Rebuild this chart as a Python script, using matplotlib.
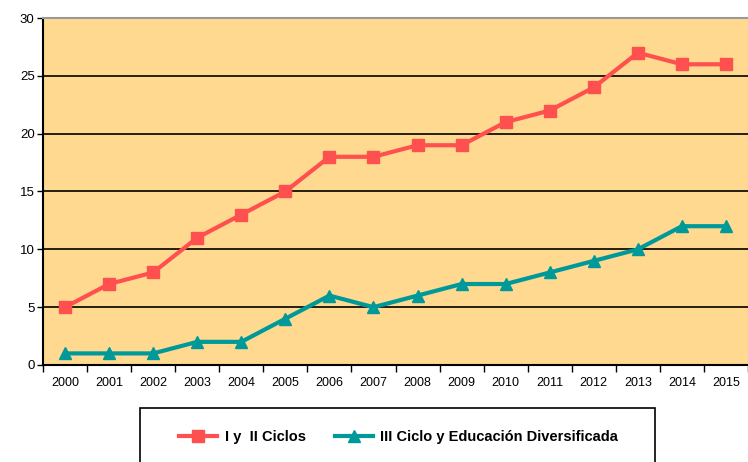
import numpy as np
import matplotlib
matplotlib.use("Agg")
import matplotlib.pyplot as plt
from matplotlib.patches import Rectangle

years = ["2000", "2001", "2002", "2003", "2004", "2005", "2006", "2007",
         "2008", "2009", "2010", "2011", "2012", "2013", "2014", "2015"]
ciclos_1_2 = [5, 7, 8, 11, 13, 15, 18, 18, 19, 19, 21, 22, 24, 27, 26, 26]
ciclo_3_div = [1, 1, 1, 2, 2, 4, 6, 5, 6, 7, 7, 8, 9, 10, 12, 12]

red = "#FF5050"
teal = "#009999"
bg = "#FFD98F"

plt.rcParams["font.family"] = ["Liberation Sans", "DejaVu Sans"]

fig = plt.figure(figsize=(7.48, 4.62), dpi=100)
ax = fig.add_axes([0.0575, 0.21, 0.9425, 0.751])
ax.set_facecolor(bg)

x = np.arange(len(years))
ax.plot(x, ciclos_1_2, color=red, lw=3, marker="s", ms=8, label="I y  II Ciclos", zorder=3)
ax.plot(x, ciclo_3_div, color=teal, lw=3, marker="^", ms=8, label="III Ciclo y Educación Diversificada", zorder=3)

ax.set_xlim(-0.5, len(years) - 0.5)
ax.set_ylim(0, 30)
ax.set_yticks(range(0, 31, 5))
ax.tick_params(axis="y", labelsize=9.5, length=4, width=1, direction="out", pad=2)

# category axis: ticks on the boundaries, labels in the middle
ax.set_xticks(np.arange(-0.5, len(years), 1))
ax.set_xticklabels([])
ax.set_xticks(x, minor=True)
ax.set_xticklabels(years, minor=True, fontsize=9)
ax.tick_params(axis="x", which="major", length=5, width=1, direction="out")
ax.tick_params(axis="x", which="minor", length=0, pad=9)

for v in range(5, 30, 5):
    ax.axhline(v, color="black", lw=1.2, zorder=1)

ax.spines["right"].set_visible(False)
ax.spines["top"].set_color("#999999")
ax.spines["top"].set_linewidth(1.5)
ax.spines["left"].set_linewidth(1.5)
ax.spines["bottom"].set_linewidth(1.5)

fig.patches.append(Rectangle((0.187, -0.05), 0.689, 0.167, transform=fig.transFigure,
                             facecolor="white", edgecolor="black", lw=1.2))
fig.legend(loc="center", bbox_to_anchor=(0.533, 0.054), ncol=2, frameon=False,
           handlelength=2.6, handletextpad=0.5, columnspacing=2.0,
           prop={"weight": "bold", "size": 10.5})

fig.savefig("out.png", dpi=100)
